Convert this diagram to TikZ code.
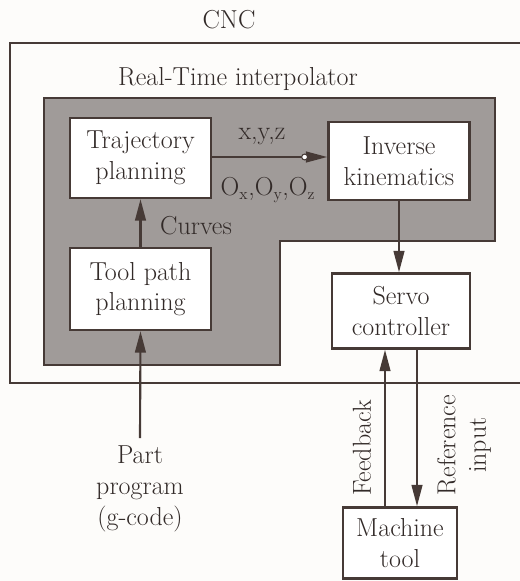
\documentclass[tikz,border=0pt]{standalone}
\usetikzlibrary{arrows.meta}
\definecolor{ink}{RGB}{70,58,54}
\definecolor{txt}{RGB}{50,42,40}
\definecolor{shade}{RGB}{160,155,153}
\definecolor{paper}{RGB}{253,252,250}
\tikzset{
  every node/.style={text=txt, font=\fontsize{19.5}{23}\selectfont},
  blk/.style={draw=ink, line width=1.8pt, fill=white, align=center, inner sep=0pt},
  conn/.style={draw=ink, line width=1.6pt, -{Triangle[length=16pt,width=8pt]}},
  lbl/.style={align=center, inner sep=0pt},
}
\begin{document}
\begin{tikzpicture}[x=0.75pt,y=-0.75pt]
\useasboundingbox (0,0) rectangle (520,581);
\fill[paper] (0,0) rectangle (520,581);
\clip (0,0) rectangle (520,581);
% outer CNC box (right side runs off the page)
\draw[ink, line width=2.2pt] (10,43) rectangle (540,383);
\node[lbl] (cnc) at (229,20) {CNC};
\node[lbl] (rti) at (238,79) {Real-Time interpolator};
% shaded L region
\filldraw[fill=shade, draw=ink, line width=1.8pt]
  (44,98) -- (495,98) -- (495,241) -- (280,241) -- (280,365) -- (44,365) -- cycle;
% blocks
\node[blk, minimum width=141*0.75pt, minimum height=80*0.75pt] (traj) at (140.5,158) {Trajectory\\planning};
\node[blk, minimum width=141*0.75pt, minimum height=78*0.75pt] (inv) at (399,161) {Inverse\\kinematics};
\node[blk, minimum width=141*0.75pt, minimum height=82*0.75pt] (tool) at (140.5,289) {Tool path\\planning};
\node[blk, minimum width=138*0.75pt, minimum height=75*0.75pt] (servo) at (401,311) {Servo\\controller};
\node[blk, minimum width=114*0.75pt, minimum height=71*0.75pt] (mach) at (400,543) {Machine\\tool};
\node[lbl] (part) at (140,489) {Part\\program\\(g-code)};
% connectors
\draw[conn] (traj.east |- 0,157) -- (inv.west |- 0,157) coordinate (hd);
\draw[ink, fill=white, line width=0.8pt] ([xshift=-17pt]hd) circle (2.2pt);
\node[lbl] (xyz) at (262,137) {x,y,z};
\node[lbl] (oxyz) at (268,190) {O\textsubscript{\large x},O\textsubscript{\large y},O\textsubscript{\large z}};
\draw[conn] (tool.north) -- (traj.south);
\node[lbl] (curves) at (196,226) {Curves};
\draw[conn] (inv.south) -- (servo.north -| inv.south);
\draw[conn] (part.north |- 0,438) -- (tool.south);
\draw[conn] (mach.north -| 385,0) -- (servo.south -| 385,0);
\draw[conn] (servo.south -| 417,0) -- (mach.north -| 417,0);
\node[lbl, rotate=90] (fb) at (362,448) {Feedback};
\node[lbl, rotate=90] (ref) at (464,445) {Reference\\input};
\end{tikzpicture}
\end{document}
